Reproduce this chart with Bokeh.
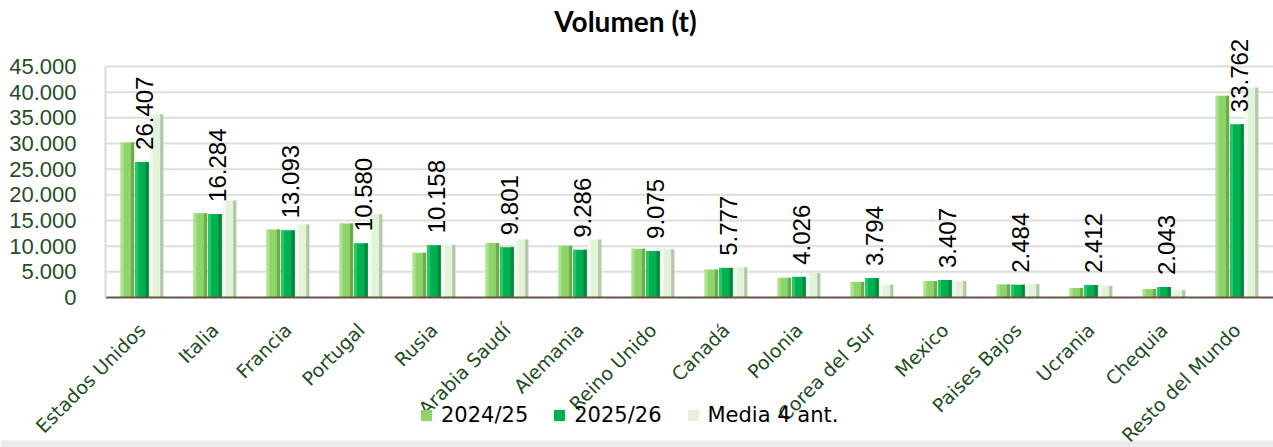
import math
from bokeh.plotting import figure
from bokeh.models import (Range1d, FixedTicker, Legend, LegendItem,
                          ColumnDataSource, Label, BoxAnnotation)
from bokeh.transform import dodge
from bokeh.core.properties import value
from bokeh.embed import file_html
from bokeh.resources import INLINE

categories = ["Estados Unidos", "Italia", "Francia", "Portugal", "Rusia",
              "Arabia Saudí", "Alemania", "Reino Unido", "Canadá", "Polonia",
              "Corea del Sur", "Mexico", "Paises Bajos", "Ucrania", "Chequia",
              "Resto del Mundo"]
v2024 = [30200, 16400, 13250, 14400, 8700, 10600, 10100, 9500, 5450, 3850,
         3050, 3200, 2550, 1850, 1650, 39300]
v2025 = [26407, 16284, 13093, 10580, 10158, 9801, 9286, 9075, 5777, 4026,
         3794, 3407, 2484, 2412, 2043, 33762]
vmedia = [35700, 18900, 14200, 16200, 10300, 11300, 11300, 9400, 5900, 4750,
          2500, 3250, 2600, 2300, 1450, 40900]
series_names = ["2024/25", "2025/26", "Media 4 ant."]
y_ticks = [0, 5000, 10000, 15000, 20000, 25000, 30000, 35000, 40000, 45000]
y_tick_labels = ["0", "5.000", "10.000", "15.000", "20.000", "25.000",
                 "30.000", "35.000", "40.000", "45.000"]

labels2025 = [f"{v:,}".replace(",", ".") for v in v2025]

# layout (pixels). The frame covers the whole canvas; the plotting band
# (categories x values 0..45000) sits inside it.
W, H = 1273, 447
LEFT = 105                 # left edge of the plotting band
ZERO_Y, TOP_Y = 297, 66    # pixel rows of value 0 and of the top tick
n = len(categories)
cat_px = (W - LEFT) / n
x_start = -LEFT / cat_px
ymax = y_ticks[-1]
per_px = ymax / (ZERO_Y - TOP_Y)
y_start = -(H - ZERO_Y) * per_px
y_end = ymax + TOP_Y * per_px

xpos = [i + 0.5 for i in range(n)]
src = ColumnDataSource(dict(x=xpos, cat=categories, a=v2024, b=v2025,
                            m=vmedia, lab=labels2025))

p = figure(x_range=Range1d(x_start, n), y_range=Range1d(y_start, y_end),
           width=W, height=H, output_backend="svg", toolbar_location=None,
           min_border_left=0, min_border_right=0, min_border_top=0,
           min_border_bottom=0)
p.background_fill_color = "white"
p.border_fill_color = "white"
p.outline_line_color = None
p.xgrid.visible = False
p.ygrid.visible = False

# light grey strip along the bottom edge of the chart area
p.add_layout(BoxAnnotation(top=7, top_units="screen", fill_color="#ebebeb",
                           fill_alpha=1, line_color=None, level="underlay"))

# horizontal gridlines at the value ticks, across the category band
p.segment(x0=0, x1=n, y0=y_ticks[1:], y1=y_ticks[1:], line_color="#dddddd",
          line_width=2)

# series styling: (field, offset, main, light, dark)
styles = [("a", -0.2, "#8fd36b", "#aae48b", "#6aad4a"),
          ("b", 0.0, "#00b050", "#22c766", "#00893b"),
          ("m", 0.2, "#e2f3da", "#f3fbef", "#b3c8aa")]
bw = 0.185
main_renderers = []
for field, off, main, light, dark in styles:
    r = p.vbar(x=dodge("x", off), top=field, width=bw,
               fill_color=main, line_color=None, source=src)
    main_renderers.append(r)
    p.vbar(x=dodge("x", off - bw / 2 + 0.02), top=field,
           width=0.04, fill_color=light, line_color=None, source=src)
    p.vbar(x=dodge("x", off + bw / 2 - 0.022), top=field,
           width=0.044, fill_color=dark, line_color=None, source=src)

# data labels on 2025/26
p.text(x=dodge("x", 0.03), y="b", text="lab", source=src,
       angle=math.pi / 2, text_align="left", text_baseline="middle",
       y_offset=-12, text_font=value("Liberation Sans"),
       text_font_size="24px", text_color="black")

# value axis, drawn at the left edge of the category band
p.yaxis.fixed_location = 0
p.yaxis.ticker = FixedTicker(ticks=y_ticks)
p.yaxis.bounds = (0, ymax)
p.yaxis.major_label_overrides = {t: l for t, l in zip(y_ticks, y_tick_labels)}
p.yaxis.major_label_text_font = "Liberation Sans"
p.yaxis.major_label_text_font_size = "22px"
p.yaxis.major_label_text_color = "#1f4e27"
p.yaxis.major_tick_line_color = None
p.yaxis.minor_tick_line_color = None
p.yaxis.axis_line_color = "#dadada"
p.yaxis.axis_line_width = 2
p.yaxis.major_label_standoff = 23

# category axis drawn at value 0
p.xaxis.fixed_location = 0
p.xaxis.ticker = FixedTicker(ticks=xpos)
p.xaxis.bounds = (0, n)
p.xaxis.major_label_overrides = {x: c for x, c in zip(xpos, categories)}
p.xaxis.major_label_orientation = math.pi / 4
p.xaxis.major_label_text_font = "DejaVu Sans"
p.xaxis.major_label_text_font_size = "19px"
p.xaxis.major_label_text_color = "#1e4d1e"
p.xaxis.major_tick_line_color = None
p.xaxis.minor_tick_line_color = None
p.xaxis.axis_line_color = "#6b5344"
p.xaxis.axis_line_width = 2
p.xaxis.major_label_standoff = 23

# title
title = Label(x=625, y=H - 20, x_units="screen", y_units="screen",
              text="Volumen (t)", text_align="center", text_baseline="middle",
              text_font="Lato", text_font_style="bold",
              text_font_size="28px", text_color="black")
p.add_layout(title)

legend = Legend(items=[LegendItem(label=nm, renderers=[r])
                       for nm, r in zip(series_names, main_renderers)],
                orientation="horizontal", location=(419, H - 427),
                background_fill_alpha=0, border_line_color=None,
                label_text_font="DejaVu Sans", label_text_font_size="21px",
                label_text_color="black", glyph_width=14, glyph_height=14,
                label_standoff=8, spacing=24, padding=0, margin=0)
p.add_layout(legend, "center")

open("out.html", "w").write(file_html(p, INLINE))
